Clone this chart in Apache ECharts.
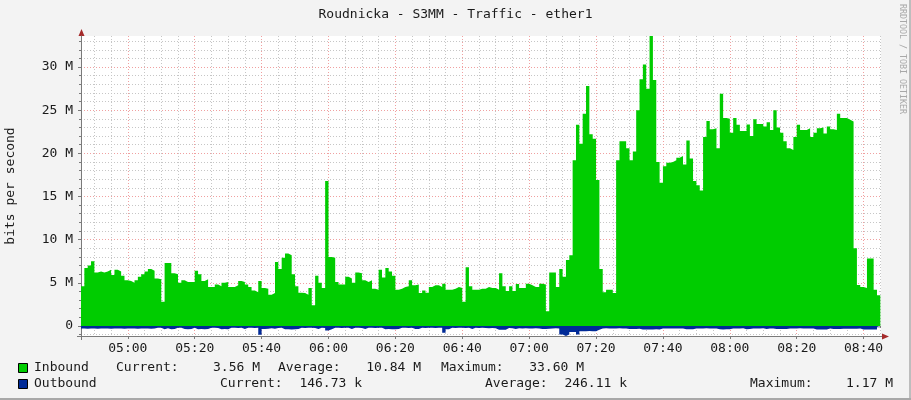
<!DOCTYPE html>
<html>
<head>
<meta charset="utf-8">
<title>Roudnicka - S3MM - Traffic - ether1</title>
<script src="https://cdn.jsdelivr.net/npm/echarts@6/dist/echarts.min.js"></script>
<style>
html, body { margin: 0; padding: 0; background: #f3f3f3; }
#chart { width: 911px; height: 400px; }
</style>
</head>
<body>
<div id="chart"></div>
<script>
// one sample per minute, starting at startTime
const startTime = '04:46';
const timeLabels = ['05:00', '05:20', '05:40', '06:00', '06:20', '06:40', '07:00', '07:20', '07:40', '08:00', '08:20', '08:40'];
const yLabelValues = [0, 5, 10, 15, 20, 25, 30];

// bits per second, in M
const inbound = [
	4.6, 6.7, 7.0, 7.5, 6.2, 6.3, 6.2, 6.3, 6.5, 5.9,
	6.5, 6.3, 5.8, 5.3, 5.2, 5.0, 5.3, 5.7, 6.0, 6.3,
	6.6, 6.4, 5.5, 5.4, 2.8, 7.3, 7.3, 6.1, 6.0, 5.0,
	5.3, 5.1, 5.1, 5.1, 6.4, 6.0, 5.2, 5.4, 4.5, 4.5,
	4.8, 4.6, 5.0, 5.1, 4.5, 4.5, 4.7, 5.2, 5.1, 4.8,
	4.5, 4.1, 3.9, 5.2, 4.4, 4.3, 3.6, 3.8, 7.4, 6.6,
	7.9, 8.4, 8.2, 6.0, 4.6, 3.85, 3.8, 3.6, 4.4, 2.4,
	5.8, 5.0, 4.4, 16.8, 8.0, 7.9, 5.1, 4.8, 4.8, 5.7,
	5.5, 5.0, 6.2, 6.1, 5.3, 5.1, 5.3, 4.3, 4.2, 6.5,
	5.6, 6.7, 6.3, 5.8, 4.2, 4.3, 4.5, 4.6, 5.3, 4.7,
	4.8, 3.8, 4.1, 3.85, 4.5, 4.7, 4.7, 4.5, 4.9, 4.2,
	4.2, 4.3, 4.5, 4.4, 2.8, 6.8, 4.6, 4.2, 4.2, 4.3,
	4.3, 4.5, 4.4, 4.4, 4.2, 6.1, 4.6, 4.05, 4.6, 4.05,
	4.85, 4.4, 4.4, 4.9, 4.7, 4.5, 4.5, 4.9, 4.8, 1.7,
	6.2, 6.2, 4.5, 6.6, 5.7, 7.65, 8.2, 19.2, 23.3, 21.1,
	24.6, 27.8, 22.2, 21.7, 16.9, 6.6, 3.9, 4.2, 4.2, 3.8,
	19.2, 21.4, 21.4, 20.6, 19.2, 20.2, 25.0, 28.6, 30.3, 27.5,
	33.6, 28.5, 19.0, 16.6, 18.5, 18.9, 19.0, 19.2, 19.5, 19.7,
	18.7, 21.5, 19.4, 16.8, 16.3, 15.7, 21.9, 23.75, 22.8, 22.9,
	20.6, 26.9, 24.1, 24.0, 22.4, 24.1, 23.3, 22.6, 22.6, 23.35,
	22.0, 23.95, 23.4, 23.4, 23.1, 23.6, 22.7, 25.0, 23.0, 22.4,
	21.4, 20.6, 20.4, 21.9, 23.3, 22.7, 22.7, 22.9, 21.9, 22.4,
	22.9, 23.0, 22.3, 23.1, 22.8, 22.7, 24.6, 24.1, 24.1, 23.9,
	23.7, 9.0, 4.75, 4.5, 4.4, 7.8, 7.8, 4.2, 3.56
];
const outbound = [
	0.31, 0.32, 0.30, 0.31, 0.32, 0.31, 0.30, 0.31, 0.32, 0.31,
	0.31, 0.30, 0.32, 0.31, 0.31, 0.30, 0.32, 0.31, 0.30, 0.31,
	0.32, 0.31, 0.22, 0.22, 0.38, 0.26, 0.38, 0.36, 0.22, 0.22,
	0.36, 0.38, 0.35, 0.22, 0.38, 0.37, 0.38, 0.36, 0.22, 0.22,
	0.23, 0.38, 0.37, 0.38, 0.22, 0.22, 0.23, 0.22, 0.36, 0.22,
	0.22, 0.23, 0.22, 1.02, 0.36, 0.34, 0.26, 0.34, 0.25, 0.22,
	0.40, 0.38, 0.41, 0.38, 0.36, 0.22, 0.23, 0.22, 0.22, 0.23,
	0.36, 0.22, 0.23, 0.54, 0.40, 0.22, 0.22, 0.23, 0.22, 0.22,
	0.36, 0.22, 0.22, 0.23, 0.36, 0.22, 0.22, 0.23, 0.22, 0.22,
	0.38, 0.37, 0.38, 0.38, 0.36, 0.22, 0.22, 0.23, 0.22, 0.36,
	0.35, 0.22, 0.23, 0.22, 0.22, 0.23, 0.22, 0.22, 0.78, 0.40,
	0.22, 0.23, 0.22, 0.22, 0.23, 0.22, 0.36, 0.22, 0.23, 0.22,
	0.25, 0.26, 0.25, 0.28, 0.45, 0.46, 0.44, 0.25, 0.26, 0.36,
	0.28, 0.30, 0.28, 0.29, 0.30, 0.28, 0.29, 0.35, 0.35, 0.34,
	0.30, 0.28, 0.30, 1.00, 1.17, 1.00, 0.70, 0.72, 1.00, 0.62,
	0.62, 0.60, 0.63, 0.62, 0.45, 0.30, 0.28, 0.30, 0.29, 0.30,
	0.28, 0.30, 0.29, 0.35, 0.36, 0.35, 0.34, 0.42, 0.42, 0.41,
	0.42, 0.40, 0.42, 0.30, 0.29, 0.30, 0.30, 0.31, 0.30, 0.30,
	0.38, 0.39, 0.38, 0.30, 0.29, 0.30, 0.28, 0.30, 0.29, 0.30,
	0.40, 0.41, 0.40, 0.39, 0.30, 0.29, 0.30, 0.28, 0.38, 0.37,
	0.30, 0.29, 0.30, 0.28, 0.36, 0.30, 0.29, 0.36, 0.37, 0.36,
	0.36, 0.30, 0.29, 0.30, 0.28, 0.30, 0.29, 0.30, 0.29, 0.42,
	0.42, 0.43, 0.42, 0.30, 0.36, 0.37, 0.36, 0.33, 0.33, 0.32,
	0.33, 0.32, 0.30, 0.42, 0.42, 0.43, 0.42, 0.41, 0.147
];

const inboundStats = ['3.56 M', '10.84 M', '33.60 M'];
const outboundStats = ['146.73 k', '246.11 k', '1.17 M'];

function toMin(s) {
	const p = s.split(':');
	return +p[0] * 60 + +p[1];
}
function fmtTime(m) {
	const h = Math.floor(m / 60), mm = Math.round(m % 60);
	return (h < 10 ? '0' : '') + h + ':' + (mm < 10 ? '0' : '') + mm;
}

const t0 = toMin(startTime);
const xMin = t0;
const xMax = t0 + 239.2; // 4h window
const yMin = -1.17;
const yMax = 33.6;

const xMajor = timeLabels.map(toMin);
const xMinor = [];
for (let m = Math.ceil(xMin / 5) * 5; m <= xMax; m += 5) {
	if (m % 20 !== 0) xMinor.push(m);
}
const yMinor = [];
for (let v = Math.ceil(yMin); v <= yMax; v++) {
	if (v % 5 !== 0) yMinor.push(v);
}

// each sample covers one minute; repeat the last one at the end of its minute
function toSteps(arr, sign) {
	const pts = arr.map((v, i) => [t0 + i, sign * v]);
	pts.push([t0 + arr.length, sign * arr[arr.length - 1]]);
	return pts;
}
const inData = toSteps(inbound, 1);
const outData = toSteps(outbound, -1);

const mono = '"DejaVu Sans Mono", monospace';
const textColor = '#1a1a1a';
const axisGray = '#7a7a7a';
const majorGrid = '#f0a0a0';
const minorGrid = '#c6c6c6';
const green = '#00cc00';
const blue = '#002a97';

function txt(x, y, text, align, extra) {
	return Object.assign({
		type: 'text',
		x: x,
		y: y,
		silent: true,
		style: {
			text: text,
			fill: textColor,
			font: '13px ' + mono,
			align: align || 'left',
			textAlign: align || 'left',
			verticalAlign: 'middle',
			textVerticalAlign: 'middle'
		}
	}, extra || {});
}

const chart = echarts.init(document.getElementById('chart'));
chart.setOption({
	animation: false,
	backgroundColor: '#f3f3f3',
	textStyle: { fontFamily: mono },
	grid: { left: 81, right: 30, top: 36, bottom: 64, show: true, backgroundColor: '#ffffff', borderWidth: 0 },
	xAxis: [
		{
			type: 'value',
			min: xMin,
			max: xMax,
			axisLine: { onZero: false, lineStyle: { color: axisGray } },
			axisTick: { show: true, customValues: xMajor, length: 3, lineStyle: { color: axisGray } },
			axisLabel: { customValues: xMajor, formatter: fmtTime, color: textColor, fontSize: 13, fontFamily: mono, margin: 6 },
			splitLine: { show: true, lineStyle: { color: majorGrid, type: [1, 2] } }
		},
		{
			type: 'value',
			min: xMin,
			max: xMax,
			position: 'bottom',
			axisLine: { show: false },
			axisTick: { show: true, customValues: xMinor, length: 2, lineStyle: { color: axisGray } },
			axisLabel: { show: false },
			splitLine: { show: true, lineStyle: { color: minorGrid, type: [1, 2] } }
		}
	],
	yAxis: [
		{
			type: 'value',
			min: yMin,
			max: yMax,
			axisLine: { show: true, onZero: false, lineStyle: { color: axisGray } },
			axisTick: { show: true, customValues: yLabelValues, length: 3, lineStyle: { color: axisGray } },
			axisLabel: {
				customValues: yLabelValues,
				formatter: v => (v === 0 ? '0' : v + ' M'),
				color: textColor, fontSize: 13, fontFamily: mono, margin: 8
			},
			splitLine: { show: true, lineStyle: { color: majorGrid, type: [1, 2] } }
		},
		{
			type: 'value',
			min: yMin,
			max: yMax,
			position: 'left',
			axisLine: { show: false },
			axisTick: { show: true, customValues: yMinor, length: 2, lineStyle: { color: axisGray } },
			axisLabel: { show: false },
			splitLine: { show: true, lineStyle: { color: minorGrid, type: [1, 2] } }
		}
	],
	series: [
		{
			name: 'Inbound',
			type: 'line',
			step: 'end',
			data: inData,
			symbol: 'none',
			color: green,
			lineStyle: { width: 0 },
			areaStyle: { color: green, opacity: 1 },
			z: 3
		},
		{
			name: 'Outbound',
			type: 'line',
			step: 'end',
			data: outData,
			symbol: 'none',
			color: blue,
			lineStyle: { width: 0 },
			areaStyle: { color: blue, opacity: 1 },
			z: 3
		}
	],
	graphic: [
		txt(455.5, 15, 'Roudnicka - S3MM - Traffic - ether1', 'center'),
		txt(11, 186, 'bits per second', 'center', { rotation: Math.PI / 2 }),
		{
			type: 'text', x: 902, y: 59, rotation: -Math.PI / 2, silent: true,
			style: {
				text: 'RRDTOOL / TOBI OETIKER', fill: '#a8a8a8', font: '8.3px ' + mono,
				align: 'center', textAlign: 'center', verticalAlign: 'middle', textVerticalAlign: 'middle'
			}
		},
		// axis arrows
		{ type: 'polygon', silent: true, shape: { points: [[81.5, 29], [78.5, 36], [84.5, 36]] }, style: { fill: '#a52a2a' } },
		{ type: 'polygon', silent: true, shape: { points: [[889, 336.5], [882, 333.5], [882, 339.5]] }, style: { fill: '#a52a2a' } },
		{ type: 'line', silent: true, shape: { x1: 77, y1: 336.5, x2: 882, y2: 336.5 }, style: { stroke: axisGray, lineWidth: 1 } },
		{ type: 'line', silent: true, shape: { x1: 81.5, y1: 36, x2: 81.5, y2: 340 }, style: { stroke: axisGray, lineWidth: 1 } },
		// legend
		{ type: 'rect', silent: true, shape: { x: 18.5, y: 363.5, width: 9, height: 9 }, style: { fill: green, stroke: '#000', lineWidth: 1 } },
		{ type: 'rect', silent: true, shape: { x: 18.5, y: 379.5, width: 9, height: 9 }, style: { fill: blue, stroke: '#000', lineWidth: 1 } },
		txt(34, 368, 'Inbound'),
		txt(116, 368, 'Current:'),
		txt(260, 368, inboundStats[0], 'right'),
		txt(278, 368, 'Average:'),
		txt(421, 368, inboundStats[1], 'right'),
		txt(441, 368, 'Maximum:'),
		txt(584, 368, inboundStats[2], 'right'),
		txt(34, 384, 'Outbound'),
		txt(220, 384, 'Current:'),
		txt(362, 384, outboundStats[0], 'right'),
		txt(485, 384, 'Average:'),
		txt(627, 384, outboundStats[1], 'right'),
		txt(750, 384, 'Maximum:'),
		txt(893, 384, outboundStats[2], 'right'),
		// frame shading
		{ type: 'rect', silent: true, shape: { x: 909, y: 0, width: 2, height: 400 }, style: { fill: '#bdbdbd' } },
		{ type: 'rect', silent: true, shape: { x: 0, y: 398, width: 911, height: 2 }, style: { fill: '#a8a8a8' } }
	]
});
</script>
</body>
</html>
